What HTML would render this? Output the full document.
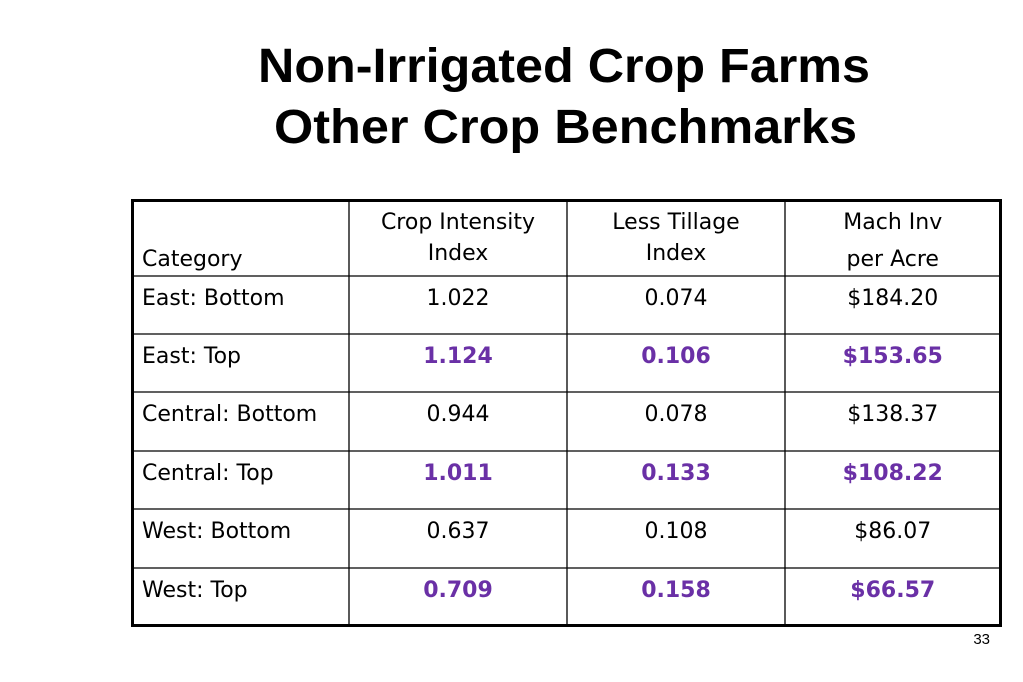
<!DOCTYPE html>
<html><head><meta charset="utf-8"><style>
html,body{margin:0;padding:0;background:#fff;}
svg{display:block;}
.t{font-family:"DejaVu Sans","Liberation Sans",sans-serif;font-size:22px;fill:#000;}
.b{font-weight:bold;fill:#6a30a6;}
.title{font-family:"Liberation Sans",sans-serif;font-weight:bold;font-size:48px;fill:#000;}
</style></head><body>
<svg width="1023" height="682" viewBox="0 0 1023 682">
<text class="title" x="258" y="82" textLength="612" lengthAdjust="spacingAndGlyphs">Non-Irrigated Crop Farms</text>
<text class="title" x="274" y="143" textLength="583" lengthAdjust="spacingAndGlyphs">Other Crop Benchmarks</text>
<g id="tbl"></g>
<text x="990" y="644" text-anchor="end" style="font-family:'Liberation Sans',sans-serif;font-size:15px">33</text>
</svg>
<script>
const categories=["East: Bottom","East: Top","Central: Bottom","Central: Top","West: Bottom","West: Top"];
const cropIntensity=["1.022","1.124","0.944","1.011","0.637","0.709"];
const lessTillage=["0.074","0.106","0.078","0.133","0.108","0.158"];
const machInv=["$184.20","$153.65","$138.37","$108.22","$86.07","$66.57"];
const ns="http://www.w3.org/2000/svg";
const g=document.getElementById('tbl');
const xs=[132.5,349,567,785,1000.5];
const ys=[200.5,276,334,392,451,509,568,625.5];
function ln(x1,y1,x2,y2,w,name){const l=document.createElementNS(ns,'line');
l.setAttribute('x1',x1);l.setAttribute('y1',y1);l.setAttribute('x2',x2);l.setAttribute('y2',y2);
l.setAttribute('stroke','#000');l.setAttribute('stroke-width',w);


g.appendChild(l);}
function tx(x,y,s,anchor,bold,name){const t=document.createElementNS(ns,'text');
t.setAttribute('x',x);t.setAttribute('y',y);t.setAttribute('text-anchor',anchor);
t.setAttribute('class',bold?'t b':'t');t.textContent=s;


g.appendChild(t);}
for(let i=1;i<ys.length-1;i++) ln(xs[0],ys[i],xs[4],ys[i],1.3,'row-line');
for(let i=1;i<xs.length-1;i++) ln(xs[i],ys[0],xs[i],ys[7],1.3,'column-line');
const r=document.createElementNS(ns,'rect');
r.setAttribute('x',xs[0]);r.setAttribute('y',ys[0]);r.setAttribute('width',xs[4]-xs[0]);r.setAttribute('height',ys[7]-ys[0]);
r.setAttribute('fill','none');r.setAttribute('stroke','#000');r.setAttribute('stroke-width',3);


g.appendChild(r);
const cx=[(xs[1]+xs[2])/2,(xs[2]+xs[3])/2,(xs[3]+xs[4])/2];
tx(142,266,'Category','start',false,'header-category');
tx(cx[0],229,'Crop Intensity','middle',false,'header-crop-intensity');
tx(cx[0],260,'Index','middle',false,'header-crop-intensity');
tx(cx[1],229,'Less Tillage','middle',false,'header-less-tillage');
tx(cx[1],260,'Index','middle',false,'header-less-tillage');
tx(cx[2],229,'Mach Inv','middle',false,'header-mach-inv');
tx(cx[2],266,'per Acre','middle',false,'header-mach-inv');
categories.forEach((c,i)=>{const y=ys[i+1]+29;const bold=i%2===1;
tx(142,y,c,'start',false,'category-cell');
tx(cx[0],y,cropIntensity[i],'middle',bold,'crop-intensity-cell');
tx(cx[1],y,lessTillage[i],'middle',bold,'less-tillage-cell');
tx(cx[2],y,machInv[i],'middle',bold,'mach-inv-cell');});
</script>
</body></html>
